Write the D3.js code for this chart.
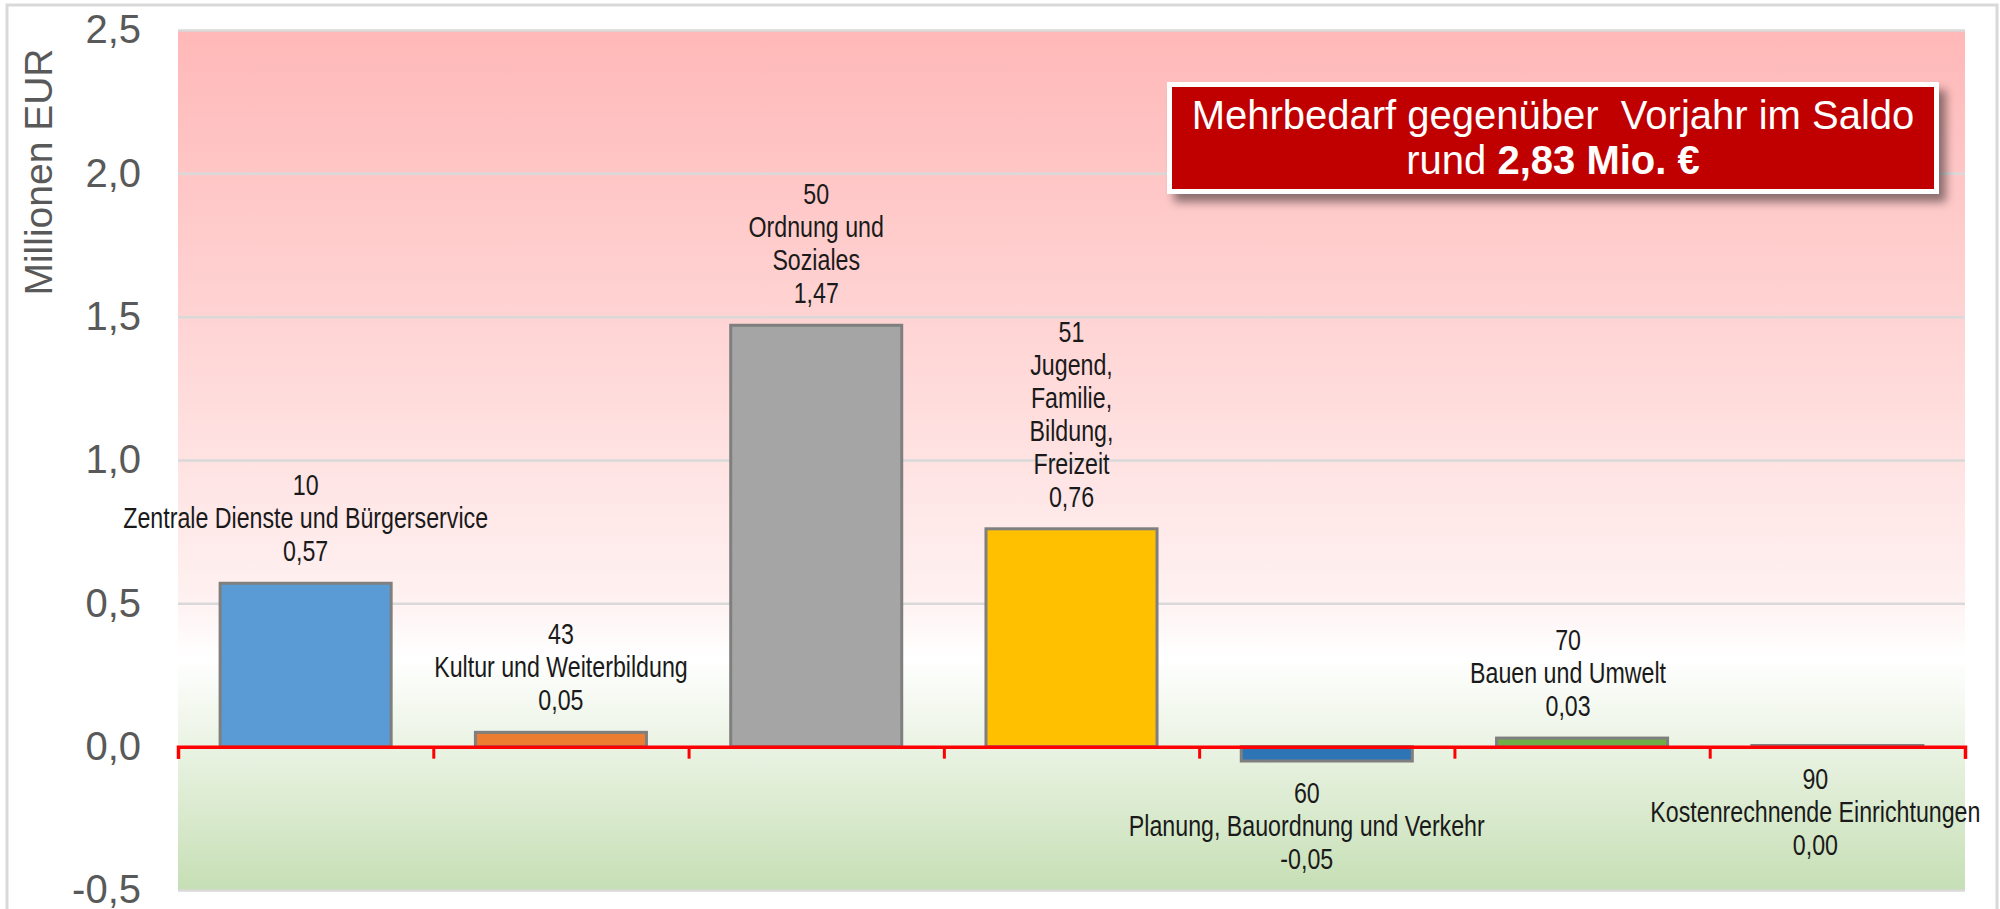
<!DOCTYPE html>
<html>
<head>
<meta charset="utf-8">
<script src="https://cdn.jsdelivr.net/npm/d3@7"></script>
<style>
  body { margin: 0; background: #fff; }
  svg { display: block; font-family: "Liberation Sans", Arial, sans-serif; }
</style>
</head>
<body>
<div id="chart"></div>
<script>
// data
const codes = ["10", "43", "50", "51", "60", "70", "90"];
const names = [
  ["Zentrale Dienste und Bürgerservice"],
  ["Kultur und Weiterbildung"],
  ["Ordnung und", "Soziales"],
  ["Jugend,", "Familie,", "Bildung,", "Freizeit"],
  ["Planung, Bauordnung und Verkehr"],
  ["Bauen und Umwelt"],
  ["Kostenrechnende Einrichtungen"]
];
const values = [0.57, 0.05, 1.47, 0.76, -0.05, 0.03, 0.004];
const labelPos = ["above", "above", "above", "above", "below", "above", "below"];
const yTicks = [-0.5, 0, 0.5, 1.0, 1.5, 2.0, 2.5];
const boxLine1 = "Mehrbedarf gegenüber\u00a0 Vorjahr im Saldo";
const boxLine2a = "rund ";
const boxLine2b = "2,83 Mio. €";

// layout
const colors = ["#5B9BD5", "#ED7D31", "#A5A5A5", "#FFC000", "#2E75B6", "#70AD47", "#A5A5A5"];
const labelDx = [0, 0, 0, 0, -20, -14, -22];
const W = 2000, H = 909;
const margin = { top: 30, right: 35, bottom: 19, left: 178 };
const width = W - margin.left - margin.right;
const height = H - margin.top - margin.bottom;

const de = d3.formatLocale({ decimal: ",", thousands: ".", grouping: [3], currency: ["", "€"], minus: "-" });
const f1 = de.format(".1f"), f2 = de.format(".2f");

const svg = d3.select("#chart").append("svg")
  .attr("width", W).attr("height", H);

// outer chart border
svg.append("rect")
  .attr("x", 7).attr("y", 5).attr("width", 1990).attr("height", 940)
  .attr("fill", "#fff").attr("stroke", "#D9D9D9").attr("stroke-width", 3);

const defs = svg.append("defs");
const grad = defs.append("linearGradient").attr("id", "bg")
  .attr("x1", 0).attr("y1", 0).attr("x2", 0).attr("y2", 1);
[[0, "#FFB8B8"], [0.33, "#FFD3D3"], [0.66, "#FFF1F1"], [0.73, "#FFFFFF"],
 [0.834, "#EAF3E3"], [1, "#C6DFB5"]].forEach(s =>
  grad.append("stop").attr("offset", s[0]).attr("stop-color", s[1]));

const shadow = defs.append("filter").attr("id", "shadow")
  .attr("x", "-10%").attr("y", "-30%").attr("width", "125%").attr("height", "170%");
shadow.append("feDropShadow").attr("dx", 7).attr("dy", 8).attr("stdDeviation", 5)
  .attr("flood-color", "#000").attr("flood-opacity", 0.45);

const g = svg.append("g").attr("transform", `translate(${margin.left},${margin.top})`);

const x = d3.scaleBand().domain(codes).range([0, width]).paddingInner(0.33).paddingOuter(0.165);
const xb = d3.scaleLinear().domain([0, codes.length]).range([0, width]);
const y = d3.scaleLinear().domain([-0.5, 2.5]).range([height, 0]);

g.append("rect").attr("width", width).attr("height", height).attr("fill", "url(#bg)");

// gridlines
g.append("g")
  .call(d3.axisLeft(y).tickValues(yTicks.filter(d => d !== 0)).tickSize(-width).tickFormat(""))
  .call(a => a.select(".domain").remove())
  .call(a => a.selectAll("line").attr("stroke", "#D9D9D9").attr("stroke-width", 2.5));

// y tick labels
g.append("g")
  .attr("transform", "translate(-34,0)")
  .call(d3.axisLeft(y).tickValues(yTicks).tickSize(0).tickFormat(f1))
  .call(a => a.select(".domain").remove())
  .call(a => a.selectAll("text")
    .attr("fill", "#595959").style("font-size", "40px")
    .style("font-family", "'Liberation Sans', Arial, sans-serif"));

svg.append("text")
  .attr("transform", "translate(52,172) rotate(-90)")
  .attr("text-anchor", "middle")
  .attr("fill", "#595959")
  .style("font-size", "39px")
  .text("Millionen EUR");

// bars
g.selectAll("rect.bar")
  .data(values)
  .enter().append("rect")
  .attr("class", "bar")
  .attr("x", (d, i) => x(codes[i]))
  .attr("y", d => y(Math.max(0, d)))
  .attr("width", x.bandwidth())
  .attr("height", d => Math.abs(y(d) - y(0)))
  .attr("fill", (d, i) => colors[i])
  .attr("stroke", "#7F7F7F")
  .attr("stroke-width", 3);

// zero axis in red, ticks at category boundaries
g.append("g")
  .attr("transform", `translate(0,${y(0)})`)
  .call(d3.axisBottom(xb).tickValues(d3.range(codes.length + 1)).tickSize(12).tickFormat(""))
  .call(a => a.select(".domain").attr("stroke", "#FF0000").attr("stroke-width", 3.5))
  .call(a => a.selectAll("line").attr("stroke", "#FF0000").attr("stroke-width", 3));

// data labels
const lineH = 33;
values.forEach((v, i) => {
  const lines = [codes[i], ...names[i], f2(v)];
  const cx = x(codes[i]) + x.bandwidth() / 2 + labelDx[i];
  let firstY;
  if (labelPos[i] === "above") {
    firstY = y(Math.max(0, v)) - 32 - (lines.length - 1) * lineH;
  } else {
    firstY = y(Math.min(0, v)) + 32;
  }
  const t = g.append("g").attr("transform", `translate(${cx},${firstY})`)
    .append("text")
    .attr("transform", "scale(0.8,1)")
    .attr("text-anchor", "middle")
    .attr("fill", "#1a1a1a")
    .style("font-size", "29px");
  lines.forEach((l, k) => {
    t.append("tspan").attr("x", 0).attr("y", k * lineH).attr("dy", "0.35em").text(l);
  });
});

// annotation box
const box = svg.append("g").attr("transform", "translate(1167,82)");
box.append("rect").attr("width", 772).attr("height", 112)
  .attr("fill", "#fff").attr("filter", "url(#shadow)");
box.append("rect").attr("x", 5).attr("y", 5).attr("width", 762).attr("height", 102)
  .attr("fill", "#C00000");
box.append("text")
  .attr("x", 386).attr("y", 33).attr("dy", "0.35em")
  .attr("text-anchor", "middle").attr("fill", "#fff")
  .style("font-size", "40px")
  .text(boxLine1);
const l2 = box.append("text")
  .attr("x", 386).attr("y", 78).attr("dy", "0.35em")
  .attr("text-anchor", "middle").attr("fill", "#fff")
  .style("font-size", "40px");
l2.append("tspan").text(boxLine2a);
l2.append("tspan").style("font-weight", "bold").text(boxLine2b);
</script>
</body>
</html>
